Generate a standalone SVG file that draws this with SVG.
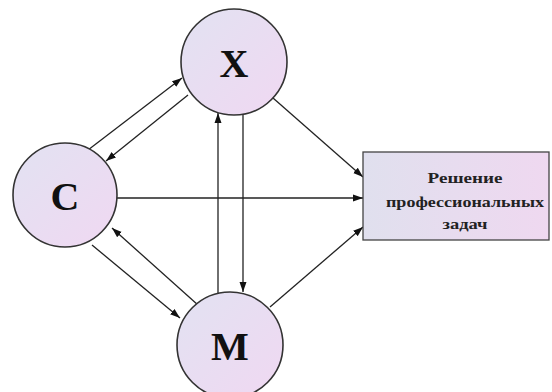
<svg xmlns="http://www.w3.org/2000/svg" width="552" height="392" viewBox="0 0 552 392">
<style>
.node{stroke:#333;stroke-width:1.6;fill:url(#g)}
.lbl{font-family:"Liberation Serif",serif;font-weight:bold;font-size:40px;fill:#111;text-anchor:middle}
.txt{font-family:"Liberation Serif",serif;font-weight:bold;font-size:15px;fill:#222;text-anchor:middle}
.c line{stroke:#222;stroke-width:1.3;marker-end:url(#a)}
</style>
<defs>
<linearGradient id="g" x1="0" y1="0" x2="1" y2="1">
<stop offset="0" stop-color="#e2e2f2"/>
<stop offset="1" stop-color="#f0d8f2"/>
</linearGradient>
<linearGradient id="gr" x1="0" y1="0" x2="1" y2="0">
<stop offset="0" stop-color="#e0e0ee"/>
<stop offset="1" stop-color="#efd8f0"/>
</linearGradient>
<marker id="a" viewBox="0 0 10 10" refX="10" refY="5" markerWidth="10" markerHeight="10" markerUnits="userSpaceOnUse" orient="auto">
<path d="M0,1.5 L10,5 L0,8.5 Z" fill="#111"/>
</marker>
</defs>
<rect width="552" height="392" fill="#fff"/>
<g class="c" id="connectors">
<line x1="88" y1="150" x2="182" y2="78"/>
<line x1="188" y1="95" x2="106" y2="161"/>
<line x1="198" y1="305" x2="112" y2="228"/>
<line x1="92" y1="245" x2="180" y2="318"/>
<line x1="218" y1="293" x2="218" y2="113"/>
<line x1="243" y1="113" x2="243" y2="292"/>
<line x1="117" y1="198" x2="363" y2="198"/>
<line x1="273" y1="98" x2="363" y2="177"/>
<line x1="270" y1="307" x2="363" y2="227"/>
</g>
<g id="X"><circle class="node" cx="234" cy="62" r="53"/><text class="lbl" x="234" y="77">X</text></g>
<g id="C"><circle class="node" cx="65" cy="195" r="52"/><text class="lbl" x="65" y="210">C</text></g>
<g id="M"><circle class="node" cx="230" cy="345" r="53"/><text class="lbl" x="230" y="360">M</text></g>
<g id="R"><rect x="363" y="152" width="186" height="88" fill="url(#gr)" stroke="#444" stroke-width="1.3"/>
<text class="txt" x="465" y="183" textLength="75" lengthAdjust="spacingAndGlyphs">Решение</text>
<text class="txt" x="465" y="207" textLength="158" lengthAdjust="spacingAndGlyphs">профессиональных</text>
<text class="txt" x="465" y="229" textLength="45" lengthAdjust="spacingAndGlyphs">задач</text></g>
</svg>
